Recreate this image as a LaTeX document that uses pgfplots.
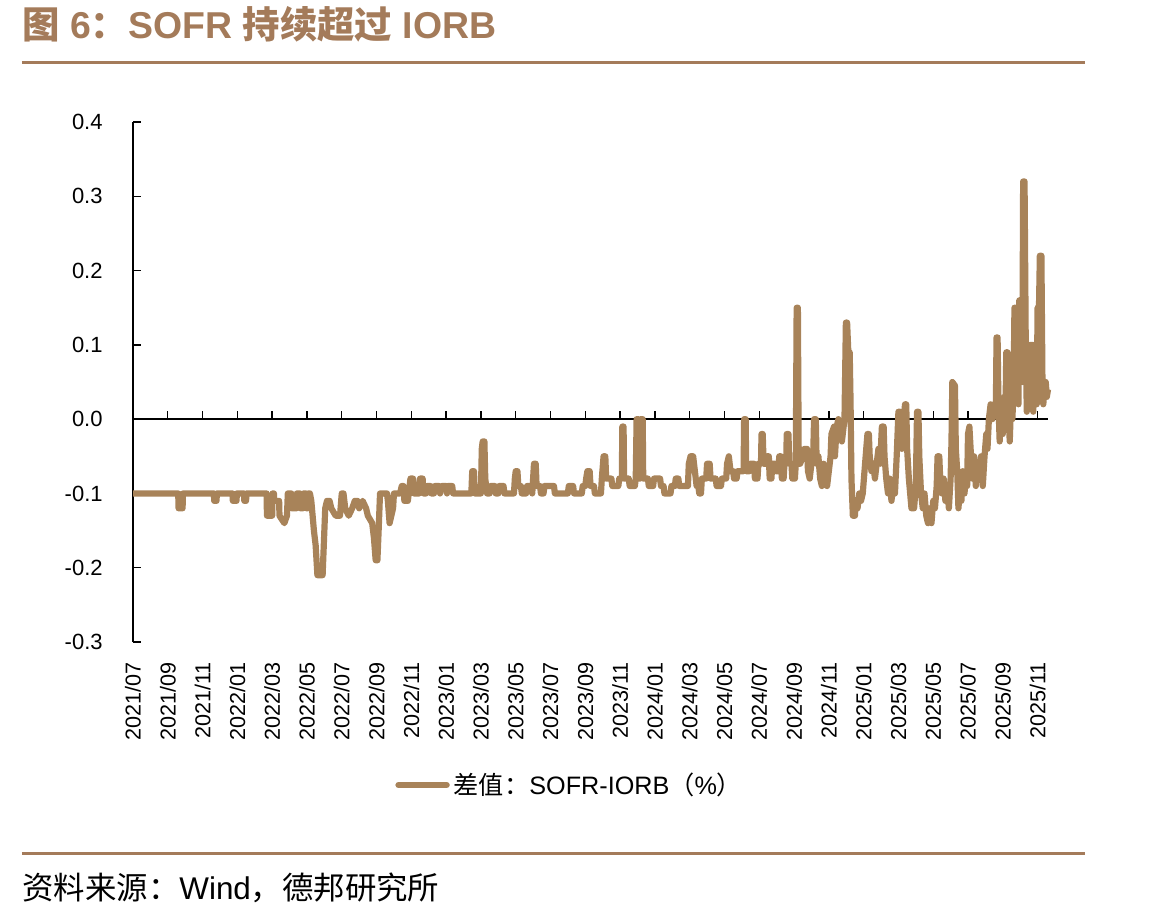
\documentclass[border=0pt]{standalone}
\usepackage{fontspec}
\usepackage{pgfplots}
\pgfplotsset{compat=1.18}
\setmainfont{Liberation Sans}
\newfontfamily\cjk{Noto Sans CJK SC}
\definecolor{dbrown}{RGB}{164,123,90}
\definecolor{lbrown}{RGB}{168,131,89}

\begin{document}
\begin{tikzpicture}
\path[use as bounding box] (-66.5pt,-140.5pt) rectangle (508pt,321pt);
% title and rules
\node[anchor=base west, inner sep=0pt, text=dbrown, font=\fontsize{18.7}{20}\selectfont\bfseries] at (-55.5pt,302pt) {{\cjk 图} 6{\cjk ：}SOFR {\cjk 持续超过} IORB};
\draw[dbrown, line width=1.5pt] (-55.5pt,290pt) -- (476pt,290pt);
\draw[dbrown, line width=1.5pt] (-55.5pt,-105.5pt) -- (476pt,-105.5pt);
\node[anchor=base west, inner sep=0pt, font=\fontsize{15.7}{17}\selectfont] at (-55.5pt,-128.5pt) {{\cjk 资料来源：}Wind{\cjk ，德邦研究所}};

% zero line with ticks
\begin{axis}[
  at={(0,0)}, anchor=south west,
  scale only axis, width=457.5pt, height=260pt,
  xmin=0, xmax=52.6, ymin=-0.3, ymax=0.4,
  axis x line*=middle, axis y line=none,
  xtick={0,2,...,52}, xticklabels={},
  ytick=\empty,
  xtick align=inside, major tick length=4pt,
  axis line style={line width=0.7pt, black},
  every tick/.style={black, line width=0.7pt},
]
\end{axis}

\begin{axis}[
  at={(0,0)}, anchor=south west,
  scale only axis, width=457.5pt, height=260pt,
  xmin=0, xmax=52.6, ymin=-0.3, ymax=0.4,
  axis x line*=bottom, axis y line*=left,
  x axis line style={draw=none},
  y axis line style={line width=0.7pt, black},
  xtick={0,2,...,52},
  xticklabels={2021/07,2021/09,2021/11,2022/01,2022/03,2022/05,2022/07,2022/09,2022/11,2023/01,2023/03,2023/05,2023/07,2023/09,2023/11,2024/01,2024/03,2024/05,2024/07,2024/09,2024/11,2025/01,2025/03,2025/05,2025/07,2025/09,2025/11},
  xtick style={draw=none},
  xticklabel style={yshift=-10pt, rotate=90, anchor=east, inner sep=0pt, font=\fontsize{10.8}{12}\selectfont},
  ytick={-0.3,-0.2,-0.1,0,0.1,0.2,0.3,0.4},
  ytick align=inside, major tick length=4pt,
  ytick style={black, line width=0.7pt},
  scaled y ticks=false,
  yticklabel style={/pgf/number format/.cd, fixed, fixed zerofill, precision=1, assume math mode=true, /tikz/.cd, inner sep=0pt, xshift=-15pt, font=\fontsize{11}{12}\selectfont},
  clip=false,
  legend style={at={(axis description cs:0.2863,-0.275)}, anchor=west, draw=none, fill=none, inner sep=0pt, font=\fontsize{12.6}{14}\selectfont},
  legend cell align=left,
  legend image code/.code={\draw[#1, line width=3.2pt, line cap=round] (0pt,0pt) -- (24pt,0pt);},
]
\addplot[lbrown, line width=3.1pt, line join=round, no markers] table {
x y
0 -0.10
2.6 -0.10
2.62 -0.12
2.85 -0.12
2.87 -0.10
4.65 -0.10
4.67 -0.11
4.8 -0.11
4.82 -0.10
5.72 -0.10
5.74 -0.11
5.95 -0.11
5.97 -0.10
6.38 -0.10
6.4 -0.11
6.5 -0.11
6.52 -0.10
7.68 -0.10
7.7 -0.13
8.0 -0.13
8.02 -0.10
8.1 -0.10
8.12 -0.11
8.4 -0.11
8.42 -0.13
8.7 -0.14
8.85 -0.13
8.9 -0.10
9.1 -0.10
9.12 -0.12
9.4 -0.12
9.42 -0.10
9.6 -0.10
9.62 -0.12
9.77 -0.12
9.8 -0.10
9.95 -0.10
9.97 -0.12
10.05 -0.12
10.07 -0.10
10.17 -0.10
10.25 -0.11
10.4 -0.15
10.5 -0.17
10.6 -0.21
10.9 -0.21
10.95 -0.18
11.05 -0.12
11.15 -0.11
11.3 -0.11
11.4 -0.12
11.65 -0.13
11.9 -0.13
12.0 -0.10
12.1 -0.10
12.2 -0.12
12.4 -0.13
12.6 -0.12
12.75 -0.11
12.9 -0.11
13.0 -0.12
13.2 -0.11
13.4 -0.12
13.5 -0.13
13.75 -0.14
13.85 -0.16
13.95 -0.19
14.05 -0.19
14.12 -0.15
14.2 -0.10
14.6 -0.10
14.65 -0.11
14.75 -0.14
14.85 -0.13
14.95 -0.12
15.0 -0.10
15.35 -0.10
15.45 -0.09
15.55 -0.09
15.6 -0.11
15.8 -0.11
15.85 -0.10
15.95 -0.08
16.1 -0.08
16.15 -0.10
16.45 -0.10
16.5 -0.08
16.65 -0.08
16.7 -0.10
16.85 -0.10
16.9 -0.09
17.1 -0.09
17.15 -0.10
17.3 -0.10
17.35 -0.09
17.6 -0.09
17.65 -0.10
17.75 -0.09
18.0 -0.09
18.05 -0.10
18.1 -0.09
18.35 -0.09
18.4 -0.10
19.45 -0.10
19.5 -0.07
19.6 -0.07
19.65 -0.10
20.0 -0.10
20.05 -0.04
20.1 -0.03
20.2 -0.03
20.25 -0.08
20.35 -0.10
20.5 -0.10
20.55 -0.09
20.8 -0.09
20.85 -0.10
21.0 -0.10
21.05 -0.09
21.3 -0.09
21.35 -0.10
21.9 -0.10
21.95 -0.08
22.0 -0.07
22.1 -0.07
22.15 -0.09
22.3 -0.09
22.35 -0.10
22.6 -0.10
22.65 -0.09
22.9 -0.09
22.95 -0.10
23.0 -0.08
23.05 -0.06
23.15 -0.06
23.2 -0.09
23.4 -0.09
23.45 -0.10
23.6 -0.10
23.65 -0.09
24.2 -0.09
24.25 -0.10
25.0 -0.10
25.05 -0.09
25.3 -0.09
25.35 -0.10
25.8 -0.10
25.85 -0.09
26.0 -0.09
26.05 -0.08
26.12 -0.07
26.25 -0.07
26.3 -0.09
26.5 -0.09
26.55 -0.10
26.9 -0.10
26.95 -0.08
27.05 -0.05
27.15 -0.05
27.2 -0.08
27.5 -0.08
27.55 -0.09
27.9 -0.09
27.95 -0.08
28.1 -0.08
28.13 -0.01
28.2 -0.01
28.23 -0.08
28.5 -0.08
28.55 -0.09
28.85 -0.09
28.9 -0.08
28.95 0.00
29.05 0.00
29.08 -0.08
29.15 -0.08
29.18 0.00
29.3 0.00
29.33 -0.08
29.6 -0.08
29.65 -0.09
29.9 -0.09
29.95 -0.08
30.3 -0.08
30.35 -0.09
30.5 -0.09
30.55 -0.10
30.9 -0.10
30.95 -0.09
31.15 -0.09
31.2 -0.08
31.35 -0.08
31.4 -0.09
31.9 -0.09
31.95 -0.06
32.05 -0.05
32.2 -0.05
32.3 -0.07
32.4 -0.09
32.5 -0.09
32.55 -0.10
32.65 -0.10
32.7 -0.08
32.95 -0.08
33.0 -0.06
33.15 -0.06
33.2 -0.08
33.5 -0.08
33.55 -0.09
33.8 -0.09
33.85 -0.08
34.1 -0.08
34.15 -0.06
34.25 -0.05
34.35 -0.07
34.5 -0.07
34.55 -0.08
34.7 -0.08
34.75 -0.07
35.1 -0.07
35.13 0.00
35.22 0.00
35.25 -0.07
35.45 -0.07
35.5 -0.06
35.7 -0.06
35.75 -0.08
35.9 -0.08
35.95 -0.06
36.1 -0.06
36.13 -0.02
36.2 -0.02
36.25 -0.06
36.4 -0.06
36.45 -0.05
36.55 -0.05
36.6 -0.08
36.7 -0.08
36.75 -0.06
36.9 -0.06
36.95 -0.07
37.1 -0.07
37.15 -0.05
37.25 -0.05
37.3 -0.08
37.4 -0.08
37.45 -0.06
37.55 -0.06
37.58 -0.02
37.68 -0.02
37.72 -0.06
37.85 -0.06
37.9 -0.08
38.05 -0.08
38.1 -0.06
38.15 0.15
38.22 0.15
38.27 -0.06
38.35 -0.06
38.5 -0.05
38.6 -0.04
38.75 -0.04
38.8 -0.07
38.9 -0.08
39.0 -0.06
39.1 -0.05
39.15 0.00
39.25 0.00
39.3 -0.06
39.4 -0.05
39.5 -0.08
39.6 -0.09
39.7 -0.06
39.8 -0.08
39.9 -0.09
40.0 -0.07
40.1 -0.05
40.15 -0.02
40.3 -0.01
40.35 -0.05
40.45 -0.01
40.55 0.00
40.65 -0.02
40.75 -0.03
40.9 0.00
40.98 0.13
41.05 0.13
41.12 0.09
41.2 0.09
41.25 0.02
41.3 -0.08
41.38 -0.13
41.5 -0.13
41.55 -0.11
41.65 -0.12
41.75 -0.10
41.85 -0.11
41.95 -0.10
42.05 -0.07
42.15 -0.04
42.22 -0.02
42.3 -0.02
42.35 -0.05
42.45 -0.07
42.55 -0.06
42.65 -0.08
42.75 -0.06
42.85 -0.04
42.95 -0.06
43.05 -0.01
43.15 -0.01
43.2 -0.05
43.3 -0.08
43.4 -0.10
43.5 -0.08
43.6 -0.11
43.7 -0.09
43.8 -0.10
43.9 -0.05
44.0 0.01
44.1 0.01
44.2 -0.04
44.3 0.00
44.38 0.02
44.45 0.02
44.5 -0.04
44.6 -0.08
44.75 -0.12
44.9 -0.12
45.0 -0.09
45.07 0.01
45.15 0.01
45.2 -0.05
45.3 -0.10
45.4 -0.12
45.5 -0.10
45.6 -0.13
45.7 -0.14
45.8 -0.12
45.9 -0.14
46.0 -0.11
46.1 -0.12
46.2 -0.09
46.25 -0.05
46.35 -0.05
46.4 -0.08
46.5 -0.10
46.6 -0.08
46.7 -0.11
46.8 -0.09
46.9 -0.12
47.0 -0.08
47.05 -0.03
47.1 0.05
47.25 0.045
47.3 -0.04
47.38 -0.07
47.45 -0.12
47.55 -0.09
47.62 -0.11
47.7 -0.07
47.8 -0.10
47.88 -0.07
47.95 -0.09
48.0 -0.02
48.08 -0.01
48.15 -0.04
48.25 -0.08
48.35 -0.05
48.45 -0.09
48.55 -0.06
48.65 -0.08
48.75 -0.05
48.85 -0.09
48.95 -0.05
49.05 -0.02
49.12 -0.04
49.2 0.00
49.3 0.02
49.4 0.00
49.5 0.02
49.6 0.01
49.64 0.11
49.7 0.11
49.75 0.02
49.82 -0.03
49.9 0.01
50.0 -0.02
50.08 0.03
50.15 0.00
50.2 0.09
50.27 0.09
50.32 0.01
50.4 -0.03
50.47 0.02
50.55 0.00
50.62 0.04
50.67 0.15
50.72 0.15
50.77 0.04
50.83 0.10
50.9 0.02
50.95 0.16
51.05 0.16
51.12 0.05
51.17 0.32
51.25 0.32
51.32 0.10
51.38 0.01
51.45 0.10
51.52 0.02
51.58 0.10
51.7 0.10
51.75 0.01
51.8 0.10
51.9 0.10
51.95 0.02
52.0 0.15
52.08 0.15
52.13 0.22
52.22 0.22
52.28 0.05
52.33 0.02
52.4 0.05
52.47 0.05
52.53 0.03
52.6 0.04
};
\addlegendentry{{\cjk 差值：}SOFR-IORB{\cjk （}\%{\cjk ）}}
\end{axis}
\end{tikzpicture}
\end{document}
